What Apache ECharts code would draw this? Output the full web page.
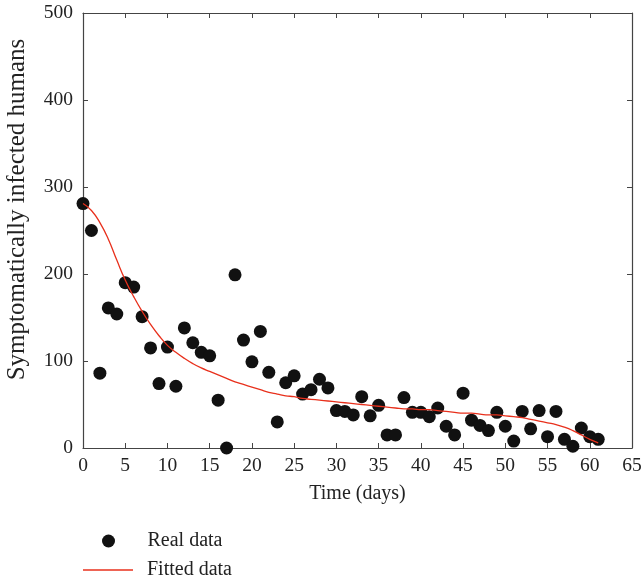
<!DOCTYPE html>
<html><head><meta charset="utf-8">
<script src="https://cdn.jsdelivr.net/npm/echarts@6/dist/echarts.min.js"></script>
<style>html,body{margin:0;padding:0;background:#fff}#c{width:643px;height:580px}</style>
</head><body><div id="c"></div>
<script>
const days = [0,1,2,3,4,5,6,7,8,9,10,11,12,13,14,15,16,17,18,19,20,21,22,23,24,25,26,27,28,29,30,31,32,33,34,35,36,37,38,39,40,41,42,43,44,45,46,47,48,49,50,51,52,53,54,55,56,57,58,59,60,61];
const realData = [281,250,86,161,154,190,185,151,115,74,116,71,138,121,110,106,55,0,199,124,99,134,87,30,75,83,62,67,79,69,43,42,38,59,37,49,15,15,58,41,41,36,46,25,15,63,32,26,20,41,25,8,42,22,43,13,42,10,2,23,13,10];
const fittedData = [281,273,259,240,216,193,174,157,142,129,118,110,103,97,92,88,84,80,76,73,70,67,64,62,60,59,57,56,55,54,53,52,51,50,49,48,47,46,45,45,44,44,43,42,41,40,40,39,38,38,37,36,35,33,31,29,27,24,20,15,10,6];
const xTicks = [0,5,10,15,20,25,30,35,40,45,50,55,60,65];
const yTicks = [0,100,200,300,400,500];

const font = '"Liberation Serif", "DejaVu Serif", serif';
const axisCol = '#444';
const txtCol = '#222';
const chart = echarts.init(document.getElementById('c'), null, {renderer:'canvas'});
const baseX = {type:'value', min:0, max:65, interval:5,
  axisLine:{show:true, onZero:false, lineStyle:{color:axisCol, width:1.2}},
  axisTick:{show:true, inside:true, length:5, lineStyle:{color:axisCol}},
  splitLine:{show:false}};
const baseY = {type:'value', min:0, max:500, interval:100,
  axisLine:{show:true, onZero:false, lineStyle:{color:axisCol, width:1.2}},
  axisTick:{show:true, inside:true, length:5, lineStyle:{color:axisCol}},
  splitLine:{show:false}};
chart.setOption({
  animation:false,
  backgroundColor:'#fff',
  textStyle:{fontFamily:font},
  grid:{left:83, right:11, top:13, bottom:132, containLabel:false, outerBoundsMode:'none'},
  xAxis:[
    Object.assign({}, baseX, {position:'bottom', name:'Time (days)', nameLocation:'middle', nameGap:36,
      nameTextStyle:{fontFamily:font, fontSize:20, color:txtCol},
      axisLabel:{show:true, margin:8, fontFamily:font, fontSize:19.5, color:txtCol,
        formatter:v=>xTicks.includes(v)?String(v):''}}),
    Object.assign({}, baseX, {position:'top', axisLabel:{show:false}})
  ],
  yAxis:[
    Object.assign({}, baseY, {position:'left', name:'Symptomatically infected humans', nameLocation:'middle', nameGap:53,
      nameTextStyle:{fontFamily:font, fontSize:25, color:txtCol, padding:[0,0,0,42]},
      axisLabel:{show:true, margin:10, fontFamily:font, fontSize:19.5, color:txtCol,
        formatter:v=>yTicks.includes(v)?String(v):''}}),
    Object.assign({}, baseY, {position:'right', axisLabel:{show:false}})
  ],
  legend:[
    {left:97, top:526, itemWidth:50, itemHeight:13,
      textStyle:{fontFamily:font, fontSize:20, color:txtCol, padding:[0,0,0,9]},
      data:[{name:'Real data', icon:'circle'}]},
    {left:78, top:555, itemWidth:50, itemHeight:1.4,
      textStyle:{fontFamily:font, fontSize:20, color:txtCol, padding:[0,0,0,9]},
      data:[{name:'Fitted data', icon:'rect'}]}
  ],
  series:[
    {name:'Real data', type:'scatter', symbol:'circle', symbolSize:13,
      itemStyle:{color:'#111', opacity:1}, data:days.map((d,i)=>[d, realData[i]]), z:3},
    {name:'Fitted data', type:'line', smooth:true, showSymbol:false, symbol:'none',
      lineStyle:{color:'#e8301c', width:1.3}, itemStyle:{color:'#e8301c'},
      data:days.map((d,i)=>[d, fittedData[i]]), z:4}
  ]
});
</script></body></html>
